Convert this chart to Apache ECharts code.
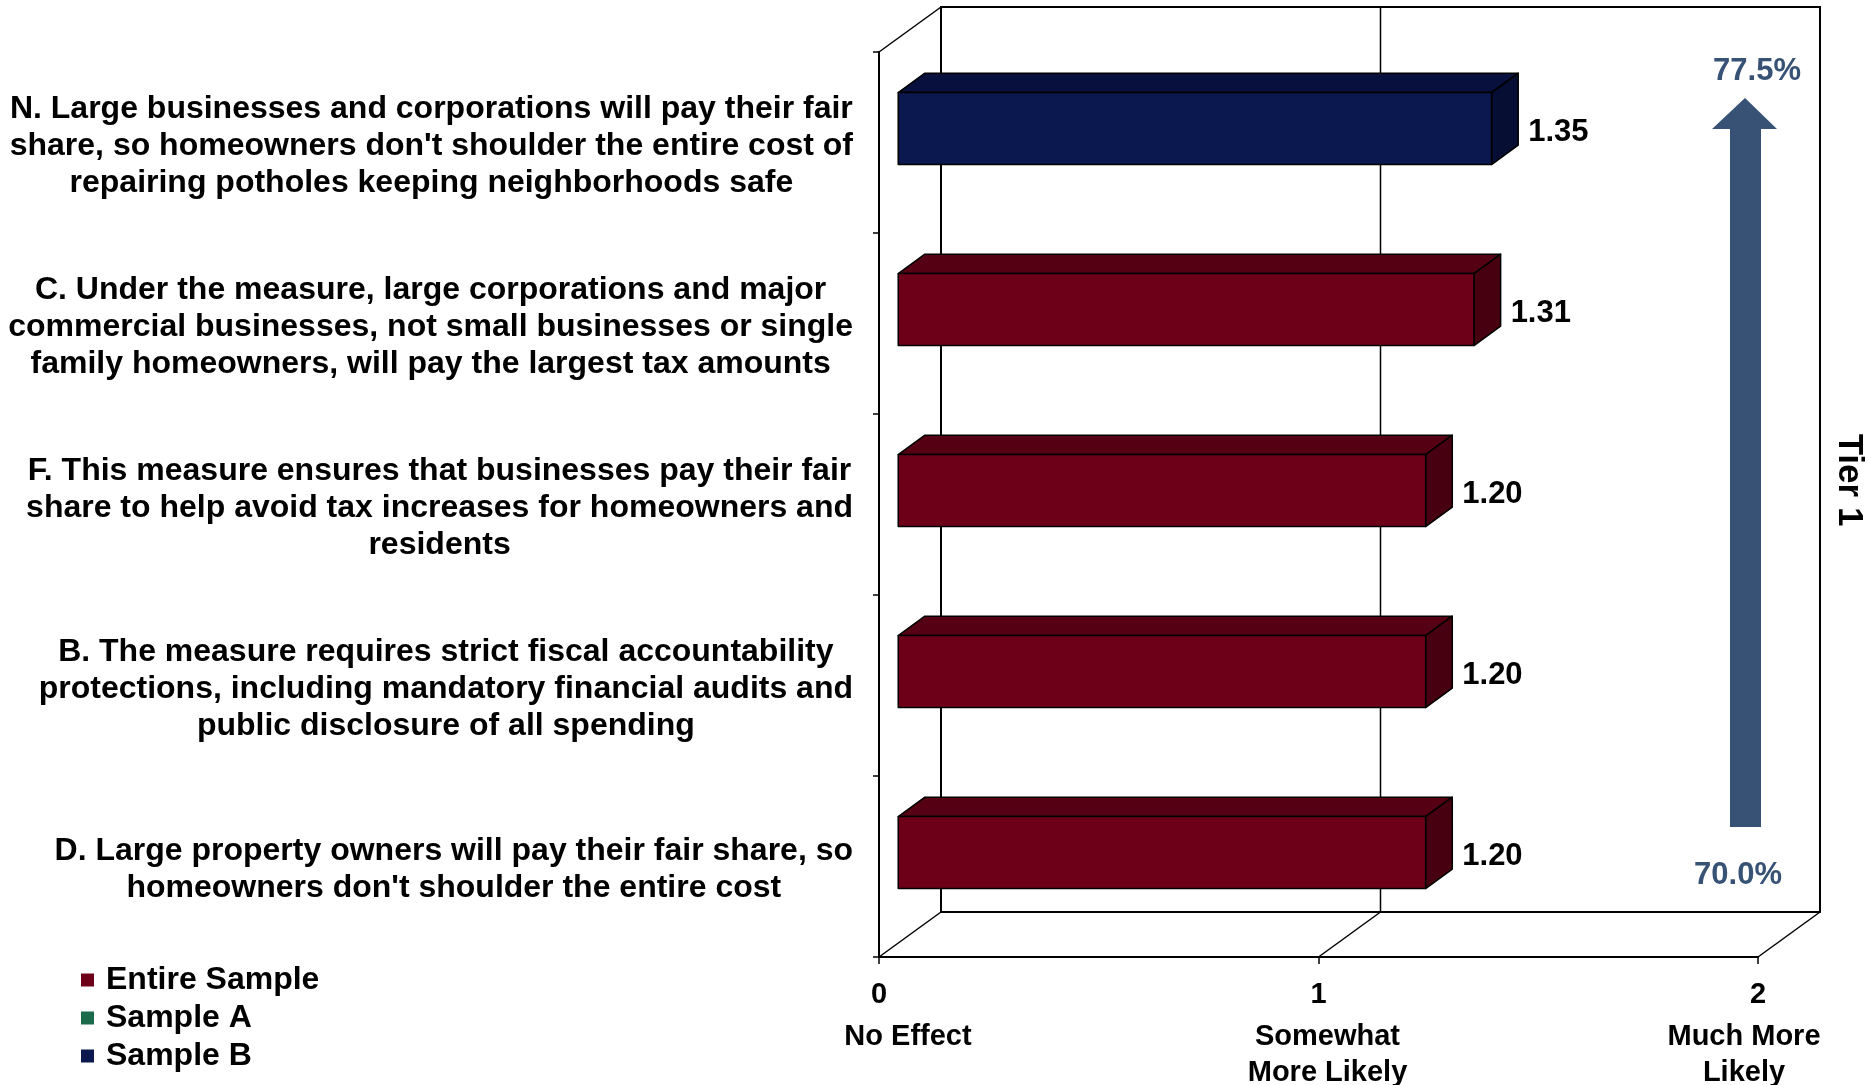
<!DOCTYPE html>
<html>
<head>
<meta charset="utf-8">
<script src="https://cdn.jsdelivr.net/npm/echarts@6/dist/echarts.min.js"></script>
<style>
  html, body { margin: 0; padding: 0; background: #ffffff; }
  #chart { width: 1868px; height: 1085px; }
</style>
</head>
<body>
<div id="chart"></div>
<script>
// Statements tested, top to bottom
const categories = [
  "N. Large businesses and corporations will pay their fair\nshare, so homeowners don't shoulder the entire cost of\nrepairing potholes keeping neighborhoods safe",
  "C. Under the measure, large corporations and major\ncommercial businesses, not small businesses or single\nfamily homeowners, will pay the largest tax amounts",
  "F. This measure ensures that businesses pay their fair\nshare to help avoid tax increases for homeowners and\nresidents",
  "B. The measure requires strict fiscal accountability\nprotections, including mandatory financial audits and\npublic disclosure of all spending",
  "D. Large property owners will pay their fair share, so\nhomeowners don't shoulder the entire cost"
];

// Mean scores per statement (null = not asked of that sample)
const entireSample = [null, 1.31, 1.20, 1.20, 1.20];
const sampleA = [null, null, null, null, null];
const sampleB = [1.35, null, null, null, null];

// Scale ticks and their verbal anchors
const xTickValues = [0, 1, 2];
const xTickNotes = ['No Effect', 'Somewhat\nMore Likely', 'Much More\nLikely'];

// Tier annotation
const tierName = 'Tier 1';
const tierTop = '77.5%';
const tierBottom = '70.0%';

const FONT = "'Liberation Sans', Arial, Helvetica, sans-serif";
const DX = 62, DY = -45;            // depth of the 3-D frame
const BAR_FRONT = 0.31, BAR_BACK = 0.74, BAR_HALF = 0.199;
const NOTE_SHIFT = [29, 9, -14];
const ARROW_COLOR = '#375274';

const palette = {
  'Entire Sample': { front: '#6d0018', top: '#560013', side: '#46000f' },
  'Sample A':      { front: '#1a6a4b', top: '#12513a', side: '#0e412e' },
  'Sample B':      { front: '#0b174f', top: '#08103d', side: '#070e33' }
};

function toPoints(arr) {
  const out = [];
  arr.forEach((v, i) => { if (v != null) out.push([v, i]); });
  return out;
}

function renderFrame(params, api) {
  const cs = params.coordSys;
  const L = cs.x, R = cs.x + cs.width, T = cs.y, B = cs.y + cs.height;
  const line = { stroke: '#000', lineWidth: 1.5, fill: 'none' };
  const children = [
    { type: 'polygon', shape: { points: [[L + DX, T + DY], [R + DX, T + DY], [R + DX, B + DY], [L + DX, B + DY]] },
      style: { fill: 'none', stroke: '#000', lineWidth: 2 } },
    { type: 'polyline', shape: { points: [[L, T], [L + DX, T + DY]] }, style: line },
    { type: 'polyline', shape: { points: [[L, B], [L + DX, B + DY]] }, style: line },
    { type: 'polyline', shape: { points: [[R, B], [R + DX, B + DY]] }, style: line }
  ];
  xTickValues.forEach((v, i) => {
    const x = api.coord([v, 0])[0];
    if (i > 0 && i < xTickValues.length - 1) {
      children.push({ type: 'polyline', shape: { points: [[x + DX, T + DY], [x + DX, B + DY]] }, style: line });
      children.push({ type: 'polyline', shape: { points: [[x, B], [x + DX, B + DY]] }, style: line });
    }
    children.push({
      type: 'text',
      style: {
        text: xTickNotes[i], x: x + NOTE_SHIFT[i], y: B + 62,
        font: 'bold 29px ' + FONT, fill: '#000', lineHeight: 36,
        align: 'center', verticalAlign: 'top'
      }
    });
  });
  return { type: 'group', children: children };
}

function makeBarRenderer(name) {
  const col = palette[name];
  return function (params, api) {
    const v = api.value(0), c = api.value(1);
    const p0 = api.coord([0, c]), p1 = api.coord([v, c]);
    const half = api.size([0, 1])[1] * BAR_HALF;
    const fx = DX * BAR_FRONT, fy = DY * BAR_FRONT;
    const ddx = DX * (BAR_BACK - BAR_FRONT), ddy = DY * (BAR_BACK - BAR_FRONT);
    const x0 = p0[0] + fx, x1 = p1[0] + fx;
    const yt = p0[1] + fy - half, yb = p0[1] + fy + half;
    const edge = { stroke: '#000', lineWidth: 1.5, lineJoin: 'round' };
    return {
      type: 'group',
      children: [
        { type: 'polygon', shape: { points: [[x0, yt], [x1, yt], [x1 + ddx, yt + ddy], [x0 + ddx, yt + ddy]] },
          style: Object.assign({ fill: col.top }, edge) },
        { type: 'polygon', shape: { points: [[x1, yt], [x1 + ddx, yt + ddy], [x1 + ddx, yb + ddy], [x1, yb]] },
          style: Object.assign({ fill: col.side }, edge) },
        { type: 'rect', shape: { x: x0, y: yt, width: x1 - x0, height: yb - yt },
          style: Object.assign({ fill: col.front }, edge) },
        { type: 'text',
          style: { text: v.toFixed(2), x: x1 + ddx + 10, y: p0[1] + fy + 3.5,
                   font: 'bold 31px ' + FONT, fill: '#000', align: 'left', verticalAlign: 'middle' } }
      ]
    };
  };
}

function barSeries(name, values) {
  return {
    name: name,
    type: 'custom',
    renderItem: makeBarRenderer(name),
    data: toPoints(values),
    encode: { x: 0, y: 1 },
    itemStyle: { color: palette[name].front },
    clip: false,
    z: 3,
    silent: true
  };
}

const chart = echarts.init(document.getElementById('chart'), null, { renderer: 'canvas' });

chart.setOption({
  backgroundColor: '#ffffff',
  animation: false,
  textStyle: { fontFamily: FONT },
  grid: { left: 879, top: 52, width: 879, height: 905, containLabel: false, outerBoundsMode: 'none' },
  xAxis: {
    type: 'value', min: 0, max: 2, interval: 1,
    axisLine: { show: true, lineStyle: { color: '#000', width: 2 } },
    axisTick: { show: true, length: 7, lineStyle: { color: '#000', width: 1.5 } },
    splitLine: { show: false },
    axisLabel: { margin: 23, fontSize: 29, fontWeight: 'bold', color: '#000', fontFamily: FONT }
  },
  yAxis: {
    type: 'category', data: categories, inverse: true,
    axisLine: { show: true, lineStyle: { color: '#000', width: 2 } },
    axisTick: { show: true, length: 6, lineStyle: { color: '#000', width: 1.5 } },
    splitLine: { show: false },
    axisLabel: {
      interval: 0, margin: 26, align: 'right', color: '#000',
      fontSize: 32, fontWeight: 'bold', lineHeight: 37, fontFamily: FONT,
      padding: [7, 0, 0, 0],
      formatter: function (val) {
        return val.split('\n').map(l => '{c|' + l + '}').join('\n');
      },
      rich: {
        c: { align: 'center', fontSize: 32, fontWeight: 'bold', lineHeight: 37, fontFamily: FONT, color: '#000' }
      }
    }
  },
  legend: {
    data: ['Entire Sample', 'Sample A', 'Sample B'],
    orient: 'vertical', left: 81, top: 964, padding: 0,
    itemGap: 6, itemWidth: 13, itemHeight: 13, icon: 'rect',
    selectedMode: false,
    textStyle: { fontSize: 32, fontWeight: 'bold', color: '#000', fontFamily: FONT, padding: [0, 0, 0, 7] }
  },
  graphic: [
    { type: 'polygon', silent: true,
      shape: { points: [[1730, 827], [1730, 129], [1712, 129], [1745, 98], [1777, 129], [1761, 129], [1761, 827]] },
      style: { fill: ARROW_COLOR } },
    { type: 'text', x: 1757, y: 71, silent: true,
      style: { text: tierTop, font: 'bold 31px ' + FONT, fill: ARROW_COLOR, align: 'center', verticalAlign: 'middle' } },
    { type: 'text', x: 1738, y: 875, silent: true,
      style: { text: tierBottom, font: 'bold 31px ' + FONT, fill: ARROW_COLOR, align: 'center', verticalAlign: 'middle' } },
    { type: 'text', x: 1849, y: 480, rotation: -Math.PI / 2, silent: true,
      style: { text: tierName, font: 'bold 35px ' + FONT, fill: '#000', align: 'center', verticalAlign: 'middle' } }
  ],
  series: [
    {
      name: 'frame', type: 'custom', renderItem: renderFrame,
      data: [[0, 0]], encode: { x: 0, y: 1 }, clip: false, z: 1, silent: true
    },
    barSeries('Entire Sample', entireSample),
    barSeries('Sample A', sampleA),
    barSeries('Sample B', sampleB)
  ]
});
</script>
</body>
</html>
